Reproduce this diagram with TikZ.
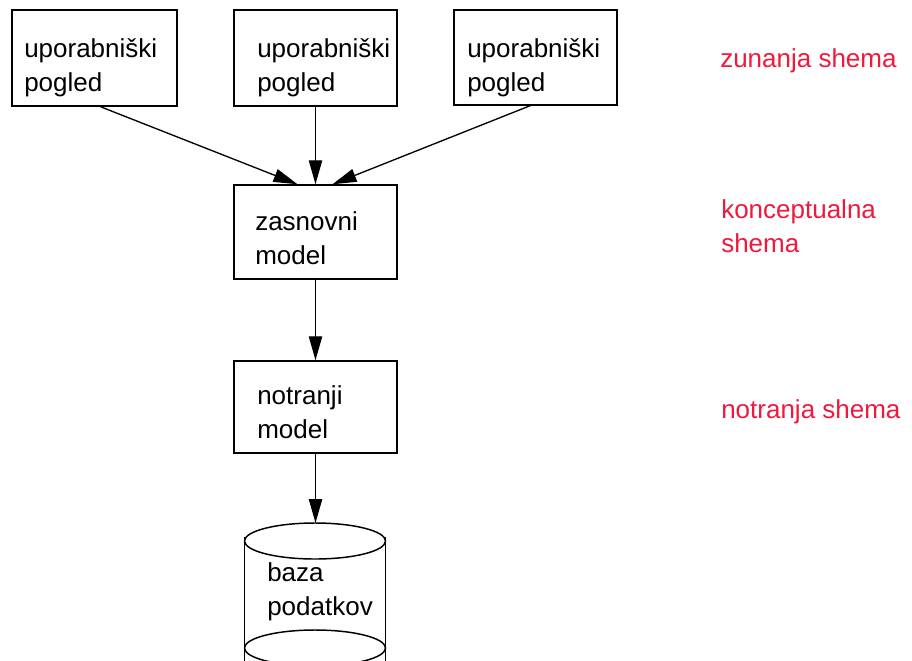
\documentclass[tikz,border=0pt]{standalone}
\usepackage{fontspec}
\setmainfont{Liberation Sans}
\usetikzlibrary{arrows.meta,calc}
\definecolor{levelred}{RGB}{240,24,60}
\tikzset{
  box/.style={draw, line width=1.1pt, rectangle, inner sep=0pt},
  txt/.style={anchor=base west, align=left, inner sep=0pt,
    font=\fontsize{19.5pt}{25pt}\selectfont},
  level/.style={txt, text=levelred},
  arr/.style={line width=1pt, -{Triangle[length=18pt,width=10pt]}},
}
\begin{document}
\begin{tikzpicture}[x=0.75pt,y=-0.75pt]
  \useasboundingbox (0,0) rectangle (912,660);

  % external views (text nodes are anchored at the baseline of their last line)
  \node[box, minimum width=123.5pt, minimum height=72pt] (v1) at (94.5,58) {};
  \node[box, minimum width=122pt, minimum height=72pt] (v2) at (315.5,58) {};
  \node[box, minimum width=122pt, minimum height=71pt] (v3) at (535.5,57.5) {};
  \node[txt] (t1) at (24,91) {uporabniški\\pogled};
  \node[txt] (t2) at (257,91) {uporabniški\\pogled};
  \node[txt] (t3) at (467,91) {uporabniški\\pogled};

  % conceptual model
  \node[box, minimum width=122pt, minimum height=70.5pt] (zm) at (315.5,232) {};
  \node[txt] (tz) at (255,264) {zasnovni\\model};

  % internal model
  \node[box, minimum width=122pt, minimum height=69pt] (nm) at (315.5,407) {};
  \node[txt] (tn) at (257,438) {notranji\\model};

  % database cylinder
  \coordinate (dbtop) at (315.5,523);
  \draw[line width=1.1pt] (315,541) ellipse [x radius=70.5, y radius=18];
  \draw[line width=1.1pt] (315,648) ellipse [x radius=70.5, y radius=18];
  \draw[line width=1.1pt] (244.5,537) -- (244.5,670) (385.5,537) -- (385.5,670);
  \node[txt] (tdb) at (267,615) {baza\\podatkov};

  % connectors
  \draw[arr] ($(v1.south)+(6,0)$) -- ($(zm.north)+(-18,0)$);
  \draw[arr] (v2.south) -- (zm.north);
  \draw[arr] ($(v3.south)+(-5,0)$) -- ($(zm.north)+(17,0)$);
  \draw[arr] (zm.south) -- (nm.north);
  \draw[arr] (nm.south) -- (dbtop);

  % schema levels
  \node[level] (l1) at (720,67) {zunanja shema};
  \node[level] (l2) at (721,252) {konceptualna\\shema};
  \node[level] (l3) at (721,418) {notranja shema};
\end{tikzpicture}
\end{document}
